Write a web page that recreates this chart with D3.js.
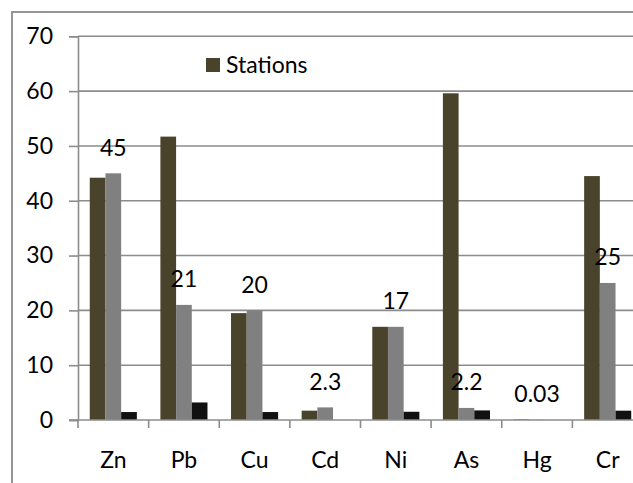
<!DOCTYPE html>
<html>
<head>
<meta charset="utf-8">
<script src="https://cdn.jsdelivr.net/npm/d3@7/dist/d3.min.js"></script>
<style>
  html, body { margin: 0; padding: 0; background: #fff; }
  svg { display: block; }
  text { font-family: Lato, "Open Sans", sans-serif; fill: #000; }
</style>
</head>
<body>
<svg id="chart" width="633" height="483"></svg>
<script>
// ---- data ----
const categories = ["Zn", "Pb", "Cu", "Cd", "Ni", "As", "Hg", "Cr"];
const seriesNames = ["Stations", "Reference", "Background"];
const stations   = [44.2, 51.7, 19.5, 1.7, 17.0, 59.6, 0.1, 44.5];
const reference  = [45, 21, 20, 2.3, 17, 2.2, 0.03, 25];
const background = [1.45, 3.2, 1.45, 0, 1.5, 1.75, 0, 1.7];
const yTicks = [0, 10, 20, 30, 40, 50, 60, 70];
const colors = ["#4a432c", "#808080", "#111111"];

(function () {
const series = [stations, reference, background];
const rows = categories.map((c, i) => ({ cat: c, vals: series.map(s => s[i]) }));

const svg = d3.select("#chart");
const mLeft = 78, mRight = 643, mTop = 36.3, mBottom = 420;
const fs = 23;

// outer frame
svg.append("rect")
  .attr("x", 12).attr("y", 12).attr("width", 700).attr("height", 600)
  .attr("fill", "none").attr("stroke", "#8a8a8a").attr("stroke-width", 1.8);

const x0 = d3.scaleBand().domain(categories).range([mLeft, mRight])
  .paddingInner(1/3).paddingOuter(1/6);
const x1 = d3.scaleBand().domain(d3.range(series.length)).range([0, x0.bandwidth()]);
const y = d3.scaleLinear().domain([0, 70]).range([mBottom, mTop]);

// gridlines
svg.append("g").selectAll("line").data(yTicks.filter(t => t > 0)).join("line")
  .attr("x1", mLeft).attr("x2", 640)
  .attr("y1", d => y(d)).attr("y2", d => y(d))
  .attr("stroke", "#8c8c8c").attr("stroke-width", 1.6);

// y axis
const yAxis = d3.axisLeft(y).tickValues(yTicks).tickSize(9).tickPadding(16).tickFormat(d3.format("d"));
const gy = svg.append("g").attr("transform", `translate(${mLeft},0)`).call(yAxis);
gy.select(".domain").attr("stroke", "#8c8c8c").attr("stroke-width", 1.6);
gy.selectAll(".tick line").attr("stroke", "#8c8c8c").attr("stroke-width", 1.6);
gy.selectAll(".tick text").attr("font-size", fs).attr("font-family", "Lato").attr("fill", "#000");

// bars
const g = svg.append("g").selectAll("g").data(rows).join("g")
  .attr("transform", d => `translate(${x0(d.cat)},0)`);
g.selectAll("rect").data(d => d.vals.map((v, k) => ({ v, k }))).join("rect")
  .attr("x", d => x1(d.k))
  .attr("width", x1.bandwidth())
  .attr("y", d => y(d.v))
  .attr("height", d => y(0) - y(d.v))
  .attr("fill", d => colors[d.k]);

// x axis
const xAxis = d3.axisBottom(x0).tickSize(0).tickPadding(32);
const gx = svg.append("g").attr("transform", `translate(0,${mBottom})`).call(xAxis);
gx.select(".domain").remove();
gx.selectAll(".tick text").attr("font-size", fs).attr("font-family", "Lato").attr("fill", "#000");
svg.append("line").attr("x1", mLeft - 9).attr("x2", 640).attr("y1", mBottom).attr("y2", mBottom)
  .attr("stroke", "#8c8c8c").attr("stroke-width", 1.6);
// category boundary ticks
const boundaries = categories.map(c => x0(c) - x0.step() * x0.paddingOuter());
svg.append("g").selectAll("line").data(boundaries).join("line")
  .attr("x1", d => d).attr("x2", d => d)
  .attr("y1", mBottom).attr("y2", mBottom + 8)
  .attr("stroke", "#8c8c8c").attr("stroke-width", 1.6);

// data labels (reference series)
svg.append("g").selectAll("text").data(rows).join("text")
  .attr("x", d => x0(d.cat) + x1(1) + x1.bandwidth() / 2)
  .attr("y", d => y(d.vals[1]) - 26)
  .attr("dy", "0.36em")
  .attr("text-anchor", "middle")
  .attr("font-size", fs)
  .text((d, i) => String(reference[i]));

// legend
const lg = svg.append("g").attr("transform", "translate(206,58)");
lg.append("rect").attr("width", 14).attr("height", 14).attr("fill", colors[0]);
lg.append("text").attr("x", 20).attr("y", 7).attr("dy", "0.36em")
  .attr("font-size", fs).text(seriesNames[0]);
})();
</script>
</body>
</html>
